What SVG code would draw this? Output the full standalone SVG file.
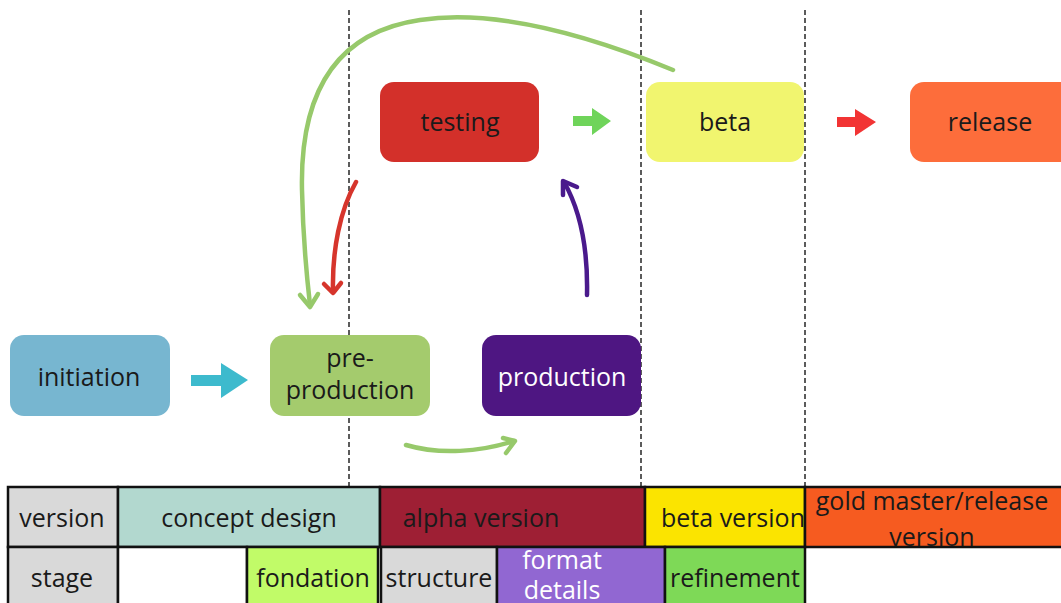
<svg xmlns="http://www.w3.org/2000/svg" width="1061" height="603" viewBox="0 0 1061 603">
<style>
text{font-family:"Open Sans","Noto Sans","Liberation Sans",sans-serif;font-size:25px;fill:#1a1a1a;text-anchor:middle}
.w{fill:#ffffff}
.dash{stroke:#4a4a4a;stroke-width:1.8;stroke-dasharray:5 3;fill:none}
.cell{stroke:#111;stroke-width:2.5}
.cv{fill:none;stroke-width:4.5;stroke-linecap:round;stroke-linejoin:round}
</style>
<rect width="1061" height="603" fill="#ffffff"/>
<g id="guides">
<line class="dash" x1="349" y1="10" x2="349" y2="486"/>
<line class="dash" x1="641" y1="10" x2="641" y2="486"/>
<line class="dash" x1="805" y1="10" x2="805" y2="486"/>
</g>
<g id="connectors">
<polygon fill="#3dbacd" points="191,375 221,375 221,363 248,380 221,398 221,386 191,386"/>
<polygon fill="#6fd45a" points="573,116 592,116 592,108 611,121 592,135 592,126 573,126"/>
<polygon fill="#f23434" points="837,117 855,117 855,109 876,122 855,136 855,127 837,127"/>
<path class="cv" stroke="#97c96b" d="M673,70 C600,40 500,8 420,20 C330,33 300,100 302,190 C303,240 306,270 310,305"/>
<path class="cv" stroke="#97c96b" d="M300,295 L310,307 L318,294"/>
<path class="cv" stroke="#d6352c" d="M356,182 C340,210 332,250 333,292"/>
<path class="cv" stroke="#d6352c" d="M324,284 L333,293 L341,283"/>
<path class="cv" stroke="#4a1a8c" d="M587,295 C588,250 580,210 564,182"/>
<path class="cv" stroke="#4a1a8c" d="M563,195 L563,181 L577,187"/>
<path class="cv" stroke="#97c96b" d="M406,445 C440,455 480,452 514,441"/>
<path class="cv" stroke="#97c96b" d="M503,438 L515,441 L506,453"/>
</g>
<g id="initiation"><rect x="10" y="335" width="160" height="81" rx="14" fill="#77b6d0"/><text x="89" y="386">initiation</text></g>
<g id="pre-production"><rect x="270" y="335" width="160" height="81" rx="14" fill="#a4cb6d"/><text x="350" y="367">pre-</text><text x="350" y="399">production</text></g>
<g id="production"><rect x="482" y="335" width="159" height="81" rx="14" fill="#4e1682"/><text class="w" x="562" y="386">production</text></g>
<g id="testing"><rect x="380" y="82" width="159" height="80" rx="14" fill="#d3302a"/><text x="460" y="131">testing</text></g>
<g id="beta"><rect x="646" y="82" width="158" height="80" rx="14" fill="#f1f56f"/><text x="725" y="131">beta</text></g>
<g id="release"><rect x="910" y="82" width="165" height="80" rx="14" fill="#fd6d3b"/><text x="990" y="131">release</text></g>
<g id="table">
<rect class="cell" x="8" y="487" width="110" height="60" fill="#d9d9d9"/>
<rect class="cell" x="118" y="487" width="262" height="60" fill="#b2d8cf"/>
<rect class="cell" x="380" y="487" width="265" height="60" fill="#9e1f34"/>
<rect class="cell" x="645" y="487" width="160" height="60" fill="#fbe400"/>
<rect class="cell" x="805" y="487" width="260" height="60" fill="#f65b20"/>
<rect class="cell" x="8" y="547" width="110" height="60" fill="#d9d9d9"/>
<rect class="cell" x="118" y="547" width="129" height="60" fill="#ffffff"/>
<rect class="cell" x="247" y="547" width="131" height="60" fill="#c1fb68"/>
<rect class="cell" x="381" y="547" width="116" height="60" fill="#d9d9d9"/>
<rect class="cell" x="497" y="547" width="168" height="60" fill="#9167d2"/>
<rect class="cell" x="665" y="547" width="140" height="60" fill="#7ed957"/>
<text x="62" y="527">version</text>
<text x="249" y="527">concept design</text>
<text x="481" y="527">alpha version</text>
<text x="733" y="527">beta version</text>
<text x="932" y="510">gold master/release</text>
<text x="932" y="546">version</text>
<text x="62" y="587">stage</text>
<text x="313" y="587">fondation</text>
<text x="439" y="587">structure</text>
<text class="w" x="562" y="569">format</text>
<text class="w" x="562" y="599">details</text>
<text x="735" y="587">refinement</text>
</g>
</svg>
